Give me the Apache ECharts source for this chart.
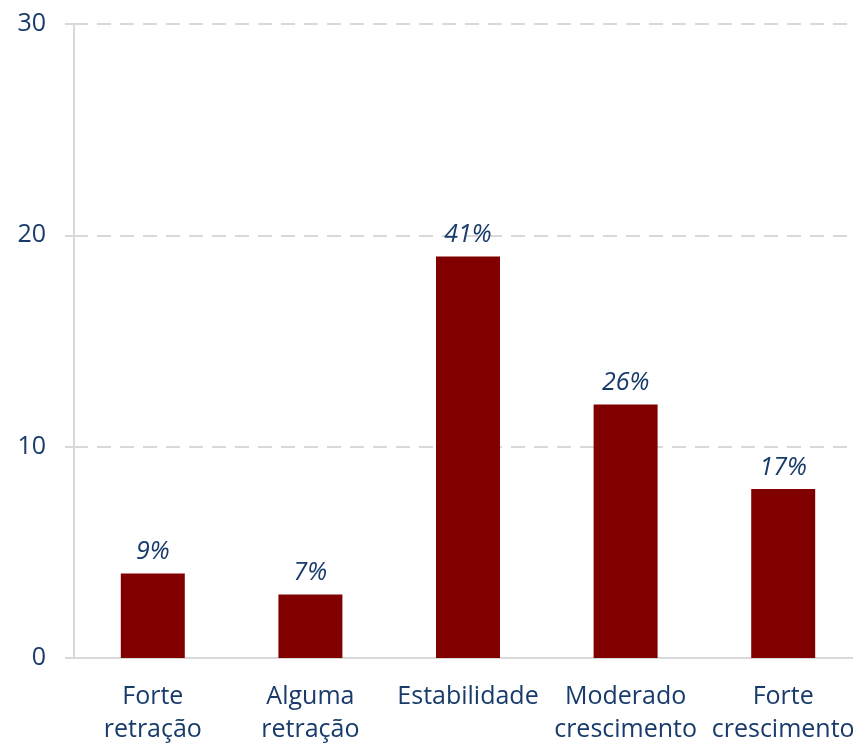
<!DOCTYPE html>
<html>
<head>
<meta charset="utf-8">
<script src="https://cdn.jsdelivr.net/npm/echarts@6/dist/echarts.min.js"></script>
<style>
	html, body { margin: 0; padding: 0; background: #fff; overflow: hidden; }
	#main { width: 862px; height: 746px; }
</style>
</head>
<body>
<div id="main"></div>
<script>
var categories = [ 'Forte\nretração', 'Alguma\nretração', 'Estabilidade', 'Moderado\ncrescimento', 'Forte\ncrescimento' ];
var values = [ 4, 3, 19, 12, 8 ];
var shares = [ '9%', '7%', '41%', '26%', '17%' ];
var yTicks = [ 0, 10, 20, 30 ];

var textColor = '#183b6b';
var chart = echarts.init(document.getElementById('main'));
var option = {
	animation : false,
	grid : {
		left : 74,
		top : 24,
		right : 0,
		bottom : 88
	},
	xAxis : {
		type : 'category',
		data : categories,
		axisLine : {
			lineStyle : { color : '#d9d9d9', width : 2 }
		},
		axisTick : { show : false },
		axisLabel : {
			color : textColor,
			fontFamily : 'Open Sans',
			fontSize : 25,
			lineHeight : 33,
			margin : 22,
			interval : 0
		}
	},
	yAxis : {
		type : 'value',
		min : yTicks[0],
		max : yTicks[yTicks.length - 1],
		interval : 10,
		axisLine : {
			show : true,
			lineStyle : { color : '#d9d9d9', width : 2 }
		},
		axisTick : {
			show : true,
			length : 9,
			lineStyle : { color : '#d9d9d9', width : 2 }
		},
		axisLabel : {
			color : textColor,
			fontFamily : 'Open Sans',
			fontSize : 25,
			margin : 28
		},
		splitLine : {
			lineStyle : { color : '#d9d9d9', type : [ 14, 9 ], width : 2 }
		}
	},
	series : [ {
		type : 'bar',
		data : values,
		barWidth : '40.6%',
		itemStyle : { color : '#800000' },
		label : {
			show : true,
			position : 'top',
			distance : 9,
			color : textColor,
			fontFamily : 'Open Sans',
			fontStyle : 'italic',
			fontSize : 25,
			formatter : function(p) {
				return shares[p.dataIndex];
			}
		}
	} ]
};
chart.setOption(option);
</script>
</body>
</html>
